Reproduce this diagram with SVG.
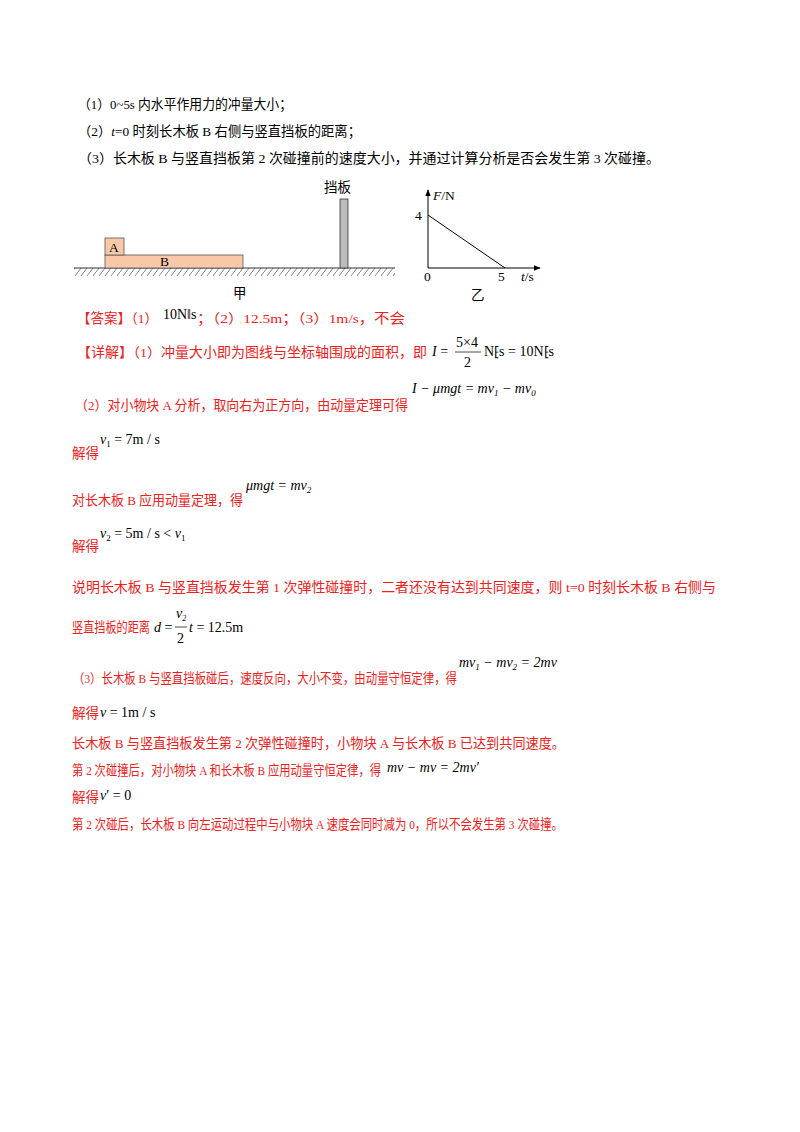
<svg xmlns="http://www.w3.org/2000/svg" width="800" height="1132" viewBox="0 0 800 1132">
<defs>
<style>
text{font-family:"Liberation Serif","Noto Sans CJK SC",serif;font-size:13.5px}
.k{fill:#000}
.r{fill:#f02020}
.m{font-family:"Liberation Serif",serif;fill:#000;font-size:14px}
.i{font-style:italic}
</style>
<pattern id="h" width="6" height="8" patternUnits="userSpaceOnUse"><line x1="0" y1="8" x2="6" y2="0" stroke="#555" stroke-width="0.7"/></pattern>
<marker id="ar" viewBox="0 0 10 10" refX="9" refY="5" markerWidth="7" markerHeight="7" orient="auto"><path d="M0,1 L10,5 L0,9 z" fill="#000"/></marker>
</defs>
<rect width="800" height="1132" fill="#fff"/>
<text class="k" x="78" y="109" textLength="214" lengthAdjust="spacingAndGlyphs">（1）0~5s 内水平作用力的冲量大小；</text>
<text class="k" x="78" y="136" textLength="283" lengthAdjust="spacingAndGlyphs">（2）<tspan class="i">t</tspan>=0 时刻长木板 B 右侧与竖直挡板的距离；</text>
<text class="k" x="78" y="163" textLength="582" lengthAdjust="spacingAndGlyphs">（3）长木板 B 与竖直挡板第 2 次碰撞前的速度大小，并通过计算分析是否会发生第 3 次碰撞。</text>
<g id="fig-jia">
<rect x="74" y="268" width="321" height="8" fill="url(#h)"/>
<line x1="74" y1="268" x2="395" y2="268" stroke="#333" stroke-width="1"/>
<rect id="B" x="105" y="255" width="138" height="13" fill="#f8c8a8" stroke="#555" stroke-width="0.8"/>
<text class="k" x="160" y="266" font-size="13">B</text>
<rect id="A" x="105" y="238" width="19" height="17" fill="#f8c8a8" stroke="#555" stroke-width="0.8"/>
<text class="k" x="109" y="252" font-size="13">A</text>
<rect id="barrier" x="340" y="199" width="8" height="69" fill="#bbb" stroke="#333" stroke-width="0.8"/>
<text class="k" x="324" y="192" font-family="Noto Sans CJK SC,sans-serif">挡板</text>
<text class="k" x="233" y="298" font-family="Noto Sans CJK SC,sans-serif">甲</text>
</g>
<g id="fig-yi">
<line x1="428" y1="268" x2="428" y2="190" stroke="#000" marker-end="url(#ar)"/>
<line x1="428" y1="268" x2="540" y2="268" stroke="#000" marker-end="url(#ar)"/>
<line x1="428" y1="215" x2="505" y2="268" stroke="#000"/>
<text class="k" x="415" y="220" font-size="15">4</text>
<text class="k" x="433" y="200" font-size="15"><tspan class="i">F</tspan>/N</text>
<text class="k" x="424" y="281" font-size="15">0</text>
<text class="k" x="498" y="281" font-size="15">5</text>
<text class="k" x="521" y="281" font-size="15"><tspan class="i">t</tspan>/s</text>
<text class="k" x="471" y="300" font-family="Noto Sans CJK SC,sans-serif">乙</text>
</g>
<text class="r" x="77" y="323">【答案】（1）</text>
<text class="m" x="163" y="319" font-size="12">10N‖s</text>
<text class="r" x="197" y="323" textLength="208" lengthAdjust="spacingAndGlyphs">；（2）12.5m；（3）1m/s，不会</text>
<text class="r" x="77" y="357" textLength="350" lengthAdjust="spacingAndGlyphs">【详解】（1）冲量大小即为图线与坐标轴围成的面积，即</text>
<text class="m" x="432" y="356"><tspan class="i">I</tspan> =</text>
<text class="m" x="456" y="347">5×4</text>
<line x1="455" y1="352" x2="481" y2="352" stroke="#000" stroke-width="0.7"/>
<text class="m" x="464" y="367">2</text>
<text class="m" x="484" y="356">N⁅s = 10N⁅s</text>
<text class="r" x="75" y="410" textLength="333" lengthAdjust="spacingAndGlyphs">（2）对小物块 A 分析，取向右为正方向，由动量定理可得</text>
<text class="m i" x="412" y="393">I − μmgt = mv<tspan font-size="9" dy="3">1</tspan><tspan dy="-3"> − mv</tspan><tspan font-size="9" dy="3">0</tspan></text>
<text class="r" x="72" y="458">解得</text>
<text class="m" x="100" y="444"><tspan class="i">v</tspan><tspan font-size="9" dy="3">1</tspan><tspan dy="-3"> = 7m / s</tspan></text>
<text class="r" x="72" y="505" textLength="171" lengthAdjust="spacingAndGlyphs">对长木板 B 应用动量定理，得</text>
<text class="m i" x="246" y="490">μmgt = mv<tspan font-size="9" dy="3">2</tspan></text>
<text class="r" x="72" y="551">解得</text>
<text class="m" x="100" y="538"><tspan class="i">v</tspan><tspan font-size="9" dy="3">2</tspan><tspan dy="-3"> = 5m / s &lt; </tspan><tspan class="i">v</tspan><tspan font-size="9" dy="3">1</tspan></text>
<text class="r" x="72" y="592" textLength="644" lengthAdjust="spacingAndGlyphs">说明长木板 B 与竖直挡板发生第 1 次弹性碰撞时，二者还没有达到共同速度，则 t=0 时刻长木板 B 右侧与</text>
<text class="r" x="72" y="632" textLength="78" lengthAdjust="spacingAndGlyphs">竖直挡板的距离</text>
<text class="m" x="154" y="632"><tspan class="i">d</tspan> =</text>
<text class="m i" x="176" y="618">v<tspan font-size="8" dy="3">2</tspan></text>
<line x1="175" y1="627" x2="187" y2="627" stroke="#000" stroke-width="0.7"/>
<text class="m" x="177" y="643">2</text>
<text class="m" x="189" y="632"><tspan class="i">t</tspan> = 12.5m</text>
<text class="r" x="73" y="683" textLength="384" lengthAdjust="spacingAndGlyphs">（3）长木板 B 与竖直挡板碰后，速度反向，大小不变，由动量守恒定律，得</text>
<text class="m i" x="459" y="667">mv<tspan font-size="9" dy="3">1</tspan><tspan dy="-3"> − mv</tspan><tspan font-size="9" dy="3">2</tspan><tspan dy="-3"> = 2mv</tspan></text>
<text class="r" x="72" y="718">解得</text>
<text class="m" x="100" y="717"><tspan class="i">v</tspan> = 1m / s</text>
<text class="r" x="72" y="748" textLength="493" lengthAdjust="spacingAndGlyphs">长木板 B 与竖直挡板发生第 2 次弹性碰撞时，小物块 A 与长木板 B 已达到共同速度。</text>
<text class="r" x="72" y="775" textLength="309" lengthAdjust="spacingAndGlyphs">第 2 次碰撞后，对小物块 A 和长木板 B 应用动量守恒定律，得</text>
<text class="m i" x="387" y="772">mv − mv = 2mv′</text>
<text class="r" x="72" y="802">解得</text>
<text class="m" x="100" y="800"><tspan class="i">v</tspan>′ = 0</text>
<text class="r" x="72" y="829" textLength="491" lengthAdjust="spacingAndGlyphs">第 2 次碰后，长木板 B 向左运动过程中与小物块 A 速度会同时减为 0，所以不会发生第 3 次碰撞。</text>
</svg>
